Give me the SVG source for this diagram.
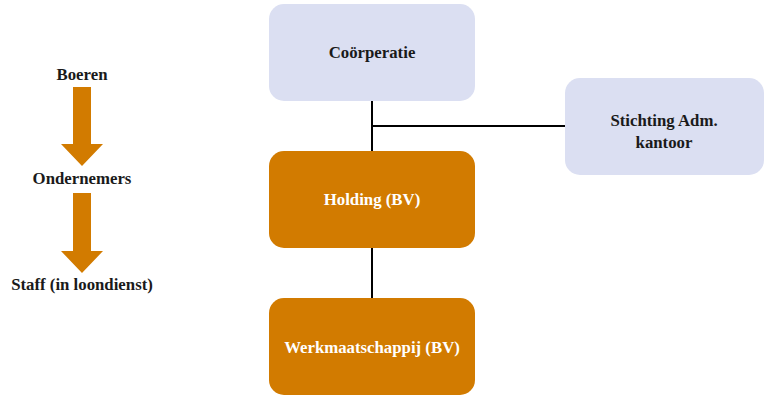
<svg xmlns="http://www.w3.org/2000/svg" width="764" height="395" viewBox="0 0 764 395">
<defs>
<style>
.blue{fill:#DBDFF2;}
.orange{fill:#D27B00;}
.t{font-family:"Liberation Serif","DejaVu Serif",serif;font-weight:bold;font-size:16.8px;text-anchor:middle;}
.dark{fill:#1a1a1a;}
.light{fill:#ffffff;}
.conn{stroke:#000;stroke-width:2;fill:none;}
</style>
</defs>
<rect width="764" height="395" fill="#ffffff"/>
<g id="connectors">
<line class="conn" x1="372" y1="101" x2="372" y2="151"/>
<line class="conn" x1="372" y1="126" x2="565" y2="126"/>
<line class="conn" x1="372" y1="248" x2="372" y2="298"/>
</g>
<g id="cooperatie">
<rect class="blue" x="269" y="4" width="206" height="97" rx="15"/>
<text class="t dark" x="372" y="58">Coörperatie</text>
</g>
<g id="stichting">
<rect class="blue" x="565" y="78" width="199" height="97" rx="15"/>
<text class="t dark" x="664" y="126">Stichting Adm.</text>
<text class="t dark" x="664" y="148">kantoor</text>
</g>
<g id="holding">
<rect class="orange" x="269" y="151" width="206" height="97" rx="15"/>
<text class="t light" x="372" y="205">Holding (BV)</text>
</g>
<g id="werkmaatschappij">
<rect class="orange" x="269" y="298" width="206" height="97" rx="15"/>
<text class="t light" x="372" y="353">Werkmaatschappij (BV)</text>
</g>
<g id="boeren">
<text class="t dark" x="82" y="80">Boeren</text>
</g>
<g id="arrow1">
<polygon class="orange" points="73,87 91,87 91,144 103,144 82,166 61,144 73,144"/>
</g>
<g id="ondernemers">
<text class="t dark" x="82" y="184">Ondernemers</text>
</g>
<g id="arrow2">
<polygon class="orange" points="73,193 91,193 91,251 103,251 82,273 61,251 73,251"/>
</g>
<g id="staff">
<text class="t dark" x="82" y="290">Staff (in loondienst)</text>
</g>
</svg>
